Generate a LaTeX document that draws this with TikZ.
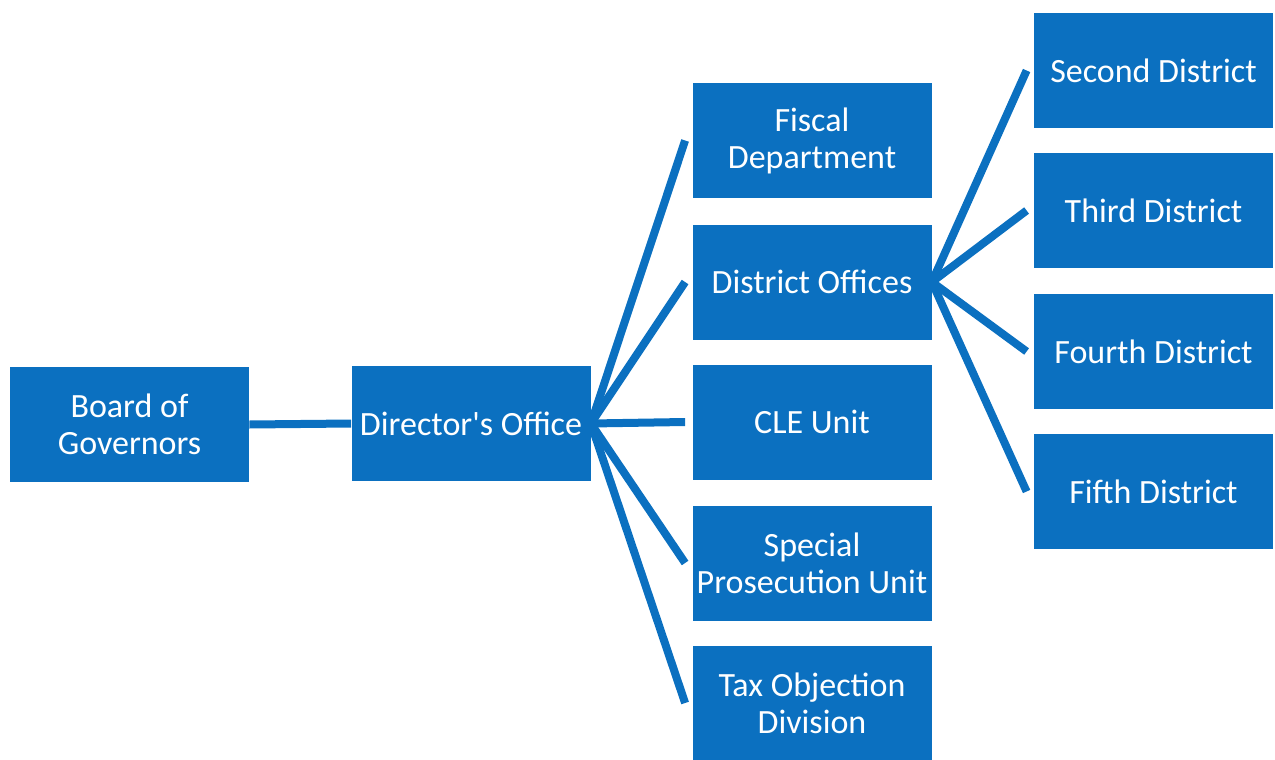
\documentclass[tikz,border=0pt]{standalone}
\usepackage{fontspec}
\setmainfont{Carlito}[Ligatures=TeXOff]
\usetikzlibrary{calc}
\definecolor{orgblue}{RGB}{11,112,192}
\tikzset{
  unit/.style={fill=orgblue, draw=none, text=white, minimum width=119.5pt, minimum height=57.5pt,
    inner sep=0pt, align=center, font=\fontsize{17pt}{18.5pt}\selectfont},
  link/.style={draw=orgblue, line width=4pt}
}
\begin{document}
\begin{tikzpicture}[x=0.5pt,y=-0.5pt]
\useasboundingbox (0,0) rectangle (1275,760);
\node[unit] (board) at (129.5,424.5) {Board of\\Governors};
\node[unit] (dir) at (471,423.5) {Director's Office};
\node[unit] (fisc) at (812,140.5) {Fiscal\\Department};
\node[unit] (dist) at (812,282) {District Offices};
\node[unit] (cle) at (812,422) {CLE Unit};
\node[unit] (spec) at (812,563) {Special\\Prosecution Unit};
\node[unit] (tax) at (812,703) {Tax Objection\\Division};
\node[unit] (d2) at (1153.5,70.5) {Second District};
\node[unit] (d3) at (1153.5,210.5) {Third District};
\node[unit] (d4) at (1153.5,351.5) {Fourth District};
\node[unit] (d5) at (1153.5,491.5) {Fifth District};
\draw[link] (board.east) -- (dir.west);
\foreach \c in {fisc,dist,cle,spec,tax}
  \draw[link] (dir.east) -- ($(\c.west)+(-7,0)$);
\foreach \c in {d2,d3,d4,d5}
  \draw[link] (dist.east) -- ($(\c.west)+(-7,0)$);
\end{tikzpicture}
\end{document}
